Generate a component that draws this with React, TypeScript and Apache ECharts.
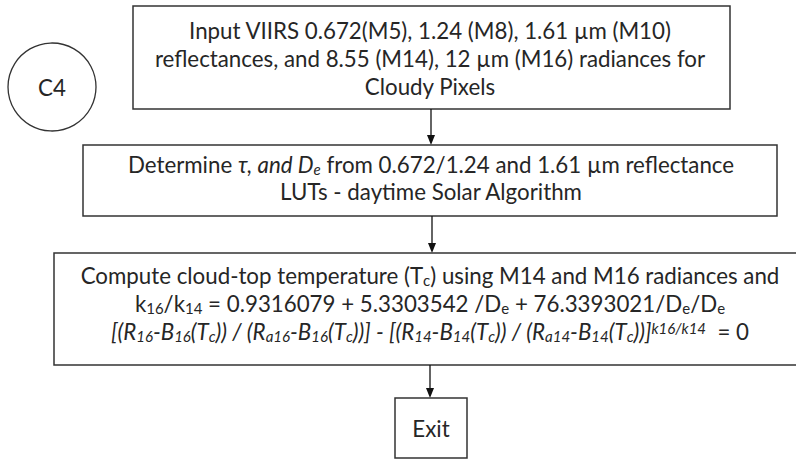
import React, { useEffect, useRef } from "react";
import * as echarts from "echarts";

type Seg = [string, string];

const CONNECTOR_LABEL = "C4";
const BOX1_LINES: Seg[][] = [
  [["n", "Input VIIRS 0.672(M5), 1.24 (M8), 1.61 µm (M10)"]],
  [["n", "reflectances, and 8.55 (M14), 12 µm (M16) radiances for"]],
  [["n", "Cloudy Pixels"]],
];
const BOX2_LINES: Seg[][] = [
  [["n", "Determine "], ["i", "τ, and D"], ["is", "e"], ["n", " from 0.672/1.24 and 1.61 µm reflectance"]],
  [["n", "LUTs - daytime Solar Algorithm"]],
];
const BOX3_LINES: Seg[][] = [
  [["n", "Compute cloud-top temperature (T"], ["s", "c"], ["n", ") using M14 and M16 radiances and"]],
  [
    ["n", "k"], ["s", "16"], ["n", "/k"], ["s", "14"],
    ["n", " = 0.9316079 + 5.3303542 /D"], ["s", "e"],
    ["n", " + 76.3393021/D"], ["s", "e"], ["n", "/D"], ["s", "e"],
  ],
  [
    ["i", "[(R"], ["is", "16"], ["i", "-B"], ["is", "16"], ["i", "(T"], ["is", "c"],
    ["i", ")) / (R"], ["is", "a16"], ["i", "-B"], ["is", "16"], ["i", "(T"], ["is", "c"],
    ["i", "))] - [(R"], ["is", "14"], ["i", "-B"], ["is", "14"], ["i", "(T"], ["is", "c"],
    ["i", ")) / (R"], ["is", "a14"], ["i", "-B"], ["is", "14"], ["i", "(T"], ["is", "c"],
    ["i", "))]"], ["sup", "k16/k14"], ["n", "  = 0"],
  ],
];
const EXIT_LABEL = "Exit";

const FONT = "Lato, 'Noto Sans', sans-serif";
const TEXT_COLOR = "#262626";
const LINE_COLOR = "#333333";
const FS = 22.3;
const SUB_FS = 15;

const rich = {
  n: { fontSize: FS, fontFamily: FONT, fill: TEXT_COLOR, lineHeight: 28 },
  i: { fontSize: FS, fontFamily: FONT, fontStyle: "italic", fill: TEXT_COLOR, lineHeight: 28 },
  s: { fontSize: SUB_FS, fontFamily: FONT, fill: TEXT_COLOR, lineHeight: 15, padding: [10, 0, 0, 0] },
  is: { fontSize: SUB_FS, fontFamily: FONT, fontStyle: "italic", fill: TEXT_COLOR, lineHeight: 15, padding: [10, 0, 0, 0] },
  sup: { fontSize: SUB_FS, fontFamily: FONT, fontStyle: "italic", fill: TEXT_COLOR, lineHeight: 15, padding: [0, 0, 6, 0] },
};

function richLine(segs: Seg[], x: number, y: number) {
  return {
    type: "text",
    x,
    y,
    style: {
      text: segs.map(([s, t]) => `{${s}|${t}}`).join(""),
      rich,
      fontSize: FS,
      fontFamily: FONT,
      fill: TEXT_COLOR,
      align: "center",
      verticalAlign: "middle",
    },
  };
}

function box(x: number, y: number, w: number, h: number) {
  return {
    type: "rect",
    shape: { x, y, width: w, height: h },
    style: { fill: "#fff", stroke: LINE_COLOR, lineWidth: 1.5 },
  };
}

function arrow(x: number, y1: number, y2: number) {
  return [
    { type: "line", shape: { x1: x, y1, x2: x, y2: y2 - 8 }, style: { stroke: "#111", lineWidth: 1.3 } },
    {
      type: "polygon",
      shape: { points: [[x - 4, y2 - 10], [x + 4, y2 - 10], [x, y2]] },
      style: { fill: "#111" },
    },
  ];
}

export default function App() {
  const ref = useRef<HTMLDivElement>(null);
  useEffect(() => {
    if (!ref.current) return;
    const chart = echarts.init(ref.current, null, { renderer: "svg" });
    const elements: any[] = [
      { type: "circle", shape: { cx: 52, cy: 87, r: 44 }, style: { fill: "#fff", stroke: LINE_COLOR, lineWidth: 1.3 } },
      {
        type: "text", x: 52, y: 87,
        style: { text: CONNECTOR_LABEL, fontSize: FS, fontFamily: FONT, fill: TEXT_COLOR, align: "center", verticalAlign: "middle" },
      },
      box(133, 6, 597, 103),
      ...BOX1_LINES.map((l, i) => richLine(l, 430, 30 + i * 28)),
      ...arrow(431, 109, 145),
      box(83, 145, 694, 71),
      ...BOX2_LINES.map((l, i) => richLine(l, 431, 164 + i * 27)),
      ...arrow(432, 216, 253),
      box(54, 253, 760, 112),
      ...BOX3_LINES.map((l, i) => richLine(l, 430, 275 + i * 28)),
      ...arrow(430, 365, 398),
      box(395, 398, 72, 60),
      {
        type: "text", x: 431, y: 428,
        style: { text: EXIT_LABEL, fontSize: FS, fontFamily: FONT, fill: TEXT_COLOR, align: "center", verticalAlign: "middle" },
      },
    ];
    chart.setOption({ animation: false, graphic: { elements } });
    return () => chart.dispose();
  }, []);
  return (
    <div
      ref={ref}
      style={{ position: "fixed", left: 0, top: 0, width: 796, height: 459, background: "#fff" }}
    />
  );
}
